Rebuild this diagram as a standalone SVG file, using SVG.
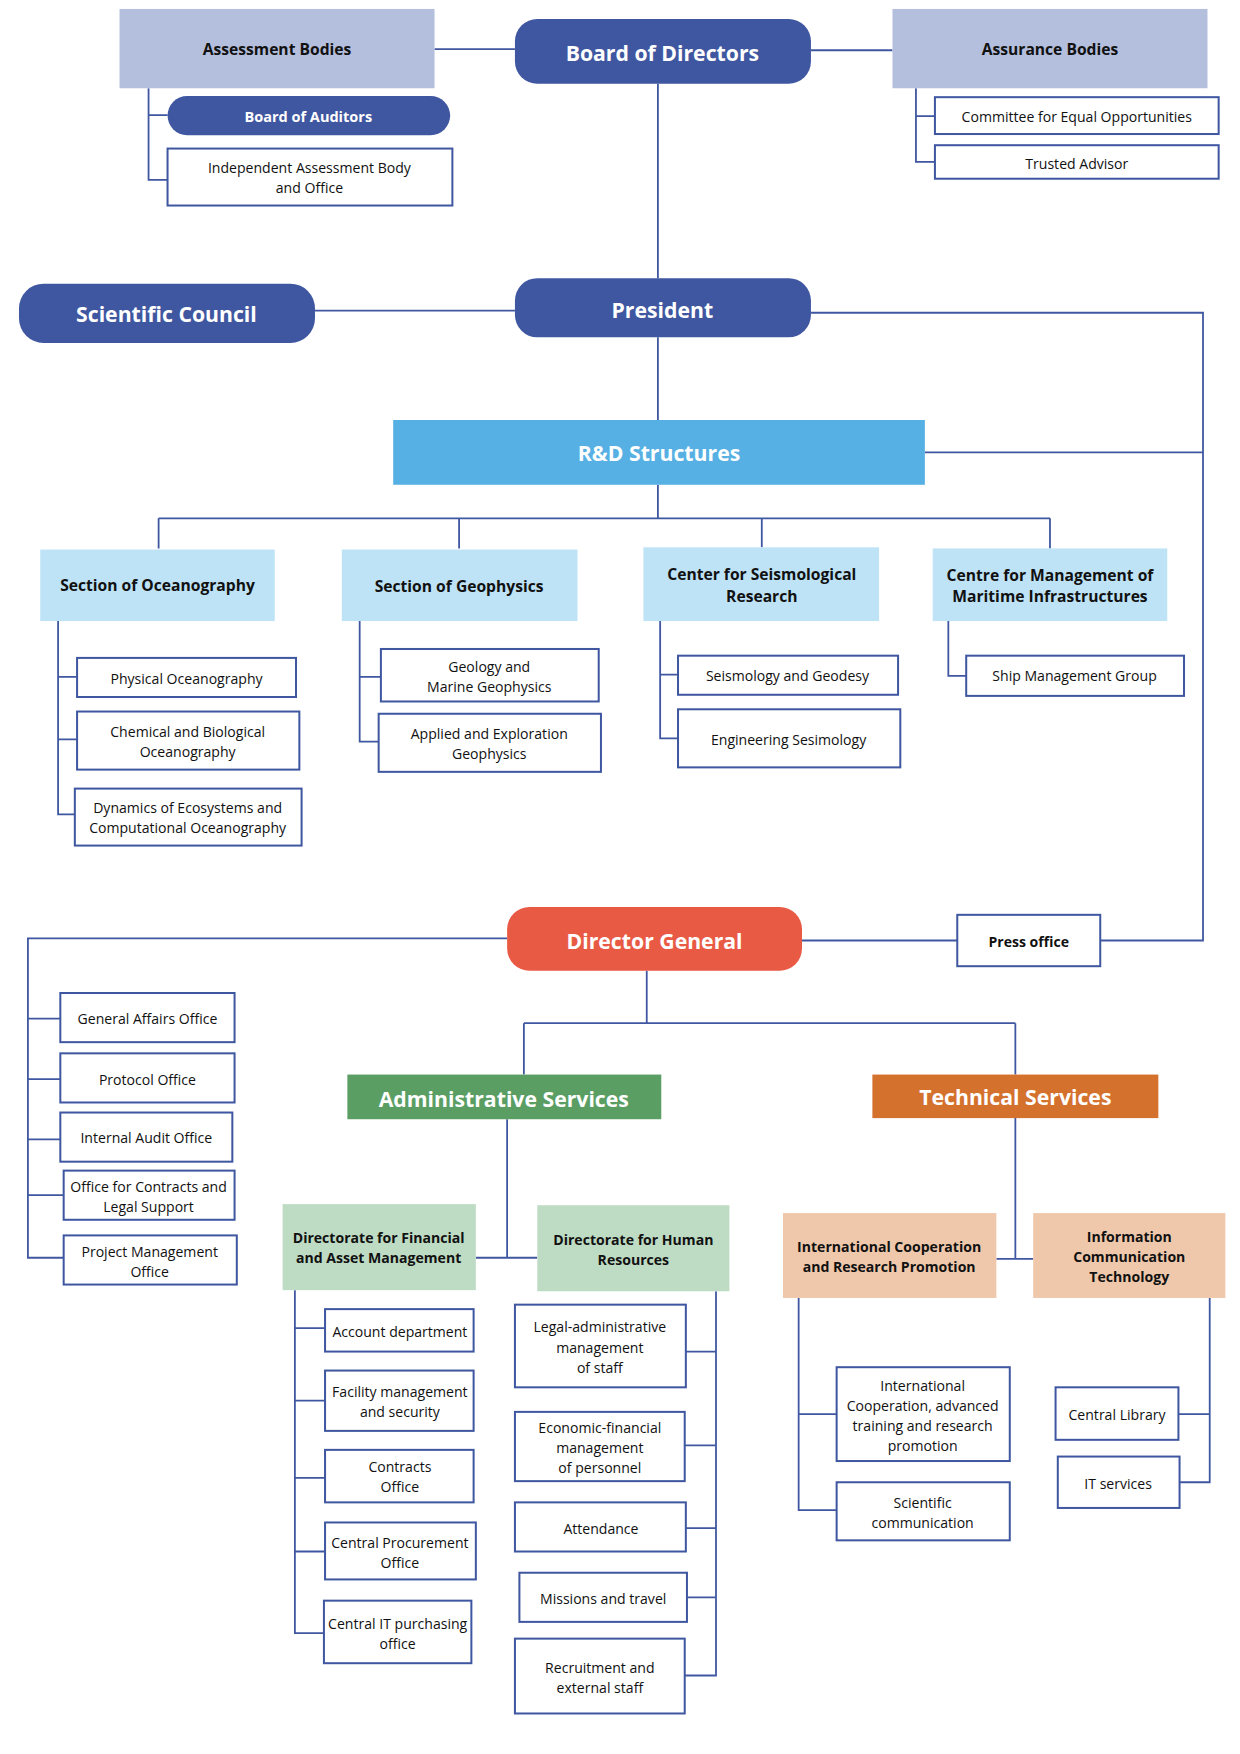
<svg xmlns="http://www.w3.org/2000/svg" width="1240" height="1754" viewBox="0 0 1240 1754">
<style>
.b{fill:#fff;stroke:#3f57a0;stroke-width:1.8}
.ln{fill:none;stroke:#3f57a0;stroke-width:1.6}
text{font-family:"Open Sans","Noto Sans",sans-serif;text-anchor:middle;dominant-baseline:central}
.t{font-size:12.6px;fill:#111}
.hb{font-size:14px;font-weight:bold;fill:#111}
.w{font-size:19px;font-weight:bold;fill:#fff}
.wb{font-size:13px;font-weight:bold;fill:#fff}
.sb{font-size:12.6px;font-weight:bold;fill:#111}
</style>
<rect width="1240" height="1754" fill="#fff"/>
<g transform="scale(1.117)">
<g id="connectors" class="ln">
<path d="M389 44H461M726 45H799"/>
<path d="M133 79V161H150M133 103H150"/>
<path d="M820 79V145H837M820 104H837"/>
<path d="M589 75V249M282 278H461M589 302V376"/>
<path d="M726 280H1077V842H985M828 405H1077"/>
<path d="M589 434V464M142 464H940M142 464V491M411 464V491M682 464V490M940 464V491"/>
<path d="M52 556V729H67M52 606H69M52 662H69"/>
<path d="M322 556V664H339M322 606H341"/>
<path d="M591 556V661H607M591 604H607"/>
<path d="M849 556V605H865"/>
<path d="M718 842H857M454 840H25V1126H57M25 912H54M25 966H54M25 1020H54M25 1070H57"/>
<path d="M579 869V916M469 916H909M469 916V962M909 916V962"/>
<path d="M454 1002V1126M426 1126H481"/>
<path d="M264 1155V1462H290M264 1189H291M264 1254H291M264 1323H291M264 1389H291"/>
<path d="M641 1156V1500H613M641 1210H614M641 1294H613M641 1368H614M641 1430H615"/>
<path d="M909 1001V1127M892 1127H925"/>
<path d="M715 1162V1352H749M715 1266H749"/>
<path d="M1083 1162V1327H1056M1083 1266H1055"/>
</g>
<g id="assessment"><rect x="107" y="8" width="282" height="71" fill="#b4bedd"/><text class="hb" x="248" y="44">Assessment Bodies</text></g>
<g id="board"><rect x="461" y="17" width="265" height="58" rx="20" fill="#3f57a0"/><text class="w" x="593" y="47">Board of Directors</text></g>
<g id="assurance"><rect x="799" y="8" width="282" height="71" fill="#b4bedd"/><text class="hb" x="940" y="44">Assurance Bodies</text></g>
<g id="auditors"><rect x="150" y="86" width="253" height="35" rx="17.5" fill="#3f57a0"/><text class="wb" x="276" y="104">Board of Auditors</text></g>
<g id="iab"><rect class="b" x="150" y="133" width="255" height="51"/><text class="t" x="277" y="150">Independent Assessment Body</text><text class="t" x="277" y="168">and Office</text></g>
<g id="ceo"><rect class="b" x="837" y="87" width="254" height="33"/><text class="t" x="964" y="104">Committee for Equal Opportunities</text></g>
<g id="ta"><rect class="b" x="837" y="130" width="254" height="30"/><text class="t" x="964" y="146">Trusted Advisor</text></g>
<g id="president"><rect x="461" y="249" width="265" height="53" rx="20" fill="#3f57a0"/><text class="w" x="593" y="277">President</text></g>
<g id="council"><rect x="17" y="254" width="265" height="53" rx="22" fill="#3f57a0"/><text class="w" x="149" y="281">Scientific Council</text></g>
<g id="rd"><rect x="352" y="376" width="476" height="58" fill="#56b0e3"/><text class="w" x="590" y="405">R&amp;D Structures</text></g>
<g id="ocean"><rect x="36" y="492" width="210" height="64" fill="#bee3f6"/><text class="hb" x="141" y="524">Section of Oceanography</text></g>
<g id="geo"><rect x="306" y="492" width="211" height="64" fill="#bee3f6"/><text class="hb" x="411" y="525">Section of Geophysics</text></g>
<g id="seis"><rect x="576" y="490" width="211" height="66" fill="#bee3f6"/><text class="hb" x="682" y="514">Center for Seismological</text><text class="hb" x="682" y="534">Research</text></g>
<g id="marit"><rect x="835" y="491" width="210" height="65" fill="#bee3f6"/><text class="hb" x="940" y="515">Centre for Management of</text><text class="hb" x="940" y="534">Maritime Infrastructures</text></g>
<g id="po"><rect class="b" x="69" y="589" width="196" height="35"/><text class="t" x="167" y="607">Physical Oceanography</text></g>
<g id="cbo"><rect class="b" x="69" y="637" width="199" height="52"/><text class="t" x="168" y="655">Chemical and Biological</text><text class="t" x="168" y="673">Oceanography</text></g>
<g id="dyn"><rect class="b" x="67" y="706" width="203" height="51"/><text class="t" x="168" y="723">Dynamics of Ecosystems and</text><text class="t" x="168" y="741">Computational Oceanography</text></g>
<g id="gmg"><rect class="b" x="341" y="581" width="195" height="47"/><text class="t" x="438" y="597">Geology and</text><text class="t" x="438" y="615">Marine Geophysics</text></g>
<g id="aeg"><rect class="b" x="339" y="639" width="199" height="52"/><text class="t" x="438" y="657">Applied and Exploration</text><text class="t" x="438" y="675">Geophysics</text></g>
<g id="sg"><rect class="b" x="607" y="587" width="197" height="35"/><text class="t" x="705" y="605">Seismology and Geodesy</text></g>
<g id="es"><rect class="b" x="607" y="635" width="199" height="52"/><text class="t" x="706" y="662">Engineering Sesimology</text></g>
<g id="smg"><rect class="b" x="865" y="587" width="195" height="36"/><text class="t" x="962" y="605">Ship Management Group</text></g>
<g id="dg"><rect x="454" y="812" width="264" height="57" rx="20" fill="#e95a45"/><text class="w" x="586" y="842">Director General</text></g>
<g id="press"><rect class="b" x="857" y="819" width="128" height="46"/><text class="sb" x="921" y="843">Press office</text></g>
<g id="gao"><rect class="b" x="54" y="889" width="156" height="44"/><text class="t" x="132" y="912">General Affairs Office</text></g>
<g id="prot"><rect class="b" x="54" y="943" width="156" height="44"/><text class="t" x="132" y="966">Protocol Office</text></g>
<g id="iao"><rect class="b" x="54" y="996" width="154" height="44"/><text class="t" x="131" y="1018">Internal Audit Office</text></g>
<g id="ocl"><rect class="b" x="57" y="1048" width="153" height="44"/><text class="t" x="133" y="1062">Office for Contracts and</text><text class="t" x="133" y="1080">Legal Support</text></g>
<g id="pmo"><rect class="b" x="57" y="1106" width="155" height="44"/><text class="t" x="134" y="1120">Project Management</text><text class="t" x="134" y="1138">Office</text></g>
<g id="admin"><rect x="311" y="962" width="281" height="40" fill="#5a9e64"/><text class="w" x="451" y="983">Administrative Services</text></g>
<g id="tech"><rect x="781" y="962" width="256" height="39" fill="#d4712d"/><text class="w" x="909" y="982">Technical Services</text></g>
<g id="dfam"><rect x="253" y="1078" width="173" height="77" fill="#bedbc4"/><text class="sb" x="339" y="1108">Directorate for Financial</text><text class="sb" x="339" y="1126">and Asset Management</text></g>
<g id="dhr"><rect x="481" y="1079" width="172" height="77" fill="#bedbc4"/><text class="sb" x="567" y="1110">Directorate for Human</text><text class="sb" x="567" y="1128">Resources</text></g>
<g id="acc"><rect class="b" x="291" y="1172" width="133" height="38"/><text class="t" x="358" y="1192">Account department</text></g>
<g id="fac"><rect class="b" x="291" y="1227" width="133" height="54"/><text class="t" x="358" y="1246">Facility management</text><text class="t" x="358" y="1264">and security</text></g>
<g id="con"><rect class="b" x="291" y="1298" width="133" height="47"/><text class="t" x="358" y="1313">Contracts</text><text class="t" x="358" y="1331">Office</text></g>
<g id="cpo"><rect class="b" x="291" y="1363" width="135" height="51"/><text class="t" x="358" y="1381">Central Procurement</text><text class="t" x="358" y="1399">Office</text></g>
<g id="cit"><rect class="b" x="290" y="1433" width="132" height="56"/><text class="t" x="356" y="1453">Central IT purchasing</text><text class="t" x="356" y="1471">office</text></g>
<g id="lam"><rect class="b" x="461" y="1168" width="153" height="74"/><text class="t" x="537" y="1188">Legal-administrative</text><text class="t" x="537" y="1206">management</text><text class="t" x="537" y="1224">of staff</text></g>
<g id="efm"><rect class="b" x="461" y="1264" width="152" height="62"/><text class="t" x="537" y="1278">Economic-financial</text><text class="t" x="537" y="1296">management</text><text class="t" x="537" y="1314">of personnel</text></g>
<g id="att"><rect class="b" x="461" y="1345" width="153" height="44"/><text class="t" x="538" y="1368">Attendance</text></g>
<g id="mis"><rect class="b" x="465" y="1408" width="150" height="44"/><text class="t" x="540" y="1431">Missions and travel</text></g>
<g id="rec"><rect class="b" x="461" y="1467" width="152" height="67"/><text class="t" x="537" y="1493">Recruitment and</text><text class="t" x="537" y="1511">external staff</text></g>
<g id="icrp"><rect x="701" y="1086" width="191" height="76" fill="#efc8ab"/><text class="sb" x="796" y="1116">International Cooperation</text><text class="sb" x="796" y="1134">and Research Promotion</text></g>
<g id="ict"><rect x="925" y="1086" width="172" height="76" fill="#efc8ab"/><text class="sb" x="1011" y="1107">Information</text><text class="sb" x="1011" y="1125">Communication</text><text class="sb" x="1011" y="1143">Technology</text></g>
<g id="icat"><rect class="b" x="749" y="1224" width="155" height="84"/><text class="t" x="826" y="1240">International</text><text class="t" x="826" y="1258">Cooperation, advanced</text><text class="t" x="826" y="1276">training and research</text><text class="t" x="826" y="1294">promotion</text></g>
<g id="sc"><rect class="b" x="749" y="1327" width="155" height="52"/><text class="t" x="826" y="1345">Scientific</text><text class="t" x="826" y="1363">communication</text></g>
<g id="cl"><rect class="b" x="945" y="1242" width="110" height="47"/><text class="t" x="1000" y="1266">Central Library</text></g>
<g id="its"><rect class="b" x="947" y="1304" width="109" height="46"/><text class="t" x="1001" y="1328">IT services</text></g>
</g>
</svg>
